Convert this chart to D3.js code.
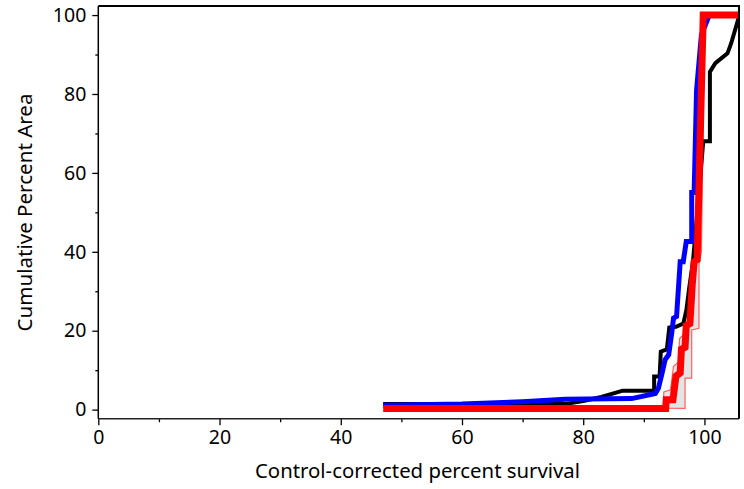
<!DOCTYPE html>
<html>
<head>
<meta charset="utf-8">
<script src="https://cdn.jsdelivr.net/npm/d3@7"></script>
<style>
  html, body { margin: 0; padding: 0; background: #fff; }
  svg { display: block; }
  text { font-family: "Noto Sans", "Open Sans", sans-serif; fill: #000; }
</style>
</head>
<body>
<svg id="chart" width="744" height="489"></svg>
<script>
// ---- data ----
const xTicks = [0, 20, 40, 60, 80, 100];
const xMinorTicks = [10, 30, 50, 70, 90];
const yTicks = [0, 20, 40, 60, 80, 100];
const yMinorTicks = [10, 30, 50, 70, 90];
const xTitle = "Control-corrected percent survival";
const yTitle = "Cumulative Percent Area";

const blackSeries = [
  [47, 1.4], [77, 1.4], [80, 2.2], [83, 3.2], [86.5, 4.8], [91.7, 4.8], [91.7, 8.4],
  [92.6, 8.4], [92.8, 14.7], [93.8, 15.3], [94.2, 20.8], [95.3, 21], [96.5, 21.8],
  [97.0, 25], [97.5, 31], [98.1, 37.5], [99.0, 53], [99.8, 68], [100.9, 68],
  [100.9, 85.6], [101.8, 87.8], [103.8, 90.3], [104.4, 92.8], [105.7, 99.6]
];
const blueSeries = [
  [47, 1.1], [60, 1.4], [70, 2.0], [77, 2.6], [88, 2.8], [91.9, 4.1], [92.4, 5.4],
  [93.0, 9.2], [93.5, 12.6], [94.1, 13.9], [94.6, 19.4], [94.9, 23.2], [95.4, 23.6],
  [96.0, 37.5], [96.5, 37.5], [97.0, 42.6], [97.9, 42.6], [97.9, 55], [98.3, 55],
  [98.7, 81], [99.5, 95], [100.8, 100], [105.7, 100]
];
const redSeries = [
  [47, 0.3], [93.6, 0.3], [93.7, 2.5], [94.8, 2.5], [95.3, 8.5], [96.0, 9.3],
  [96.2, 15.3], [96.8, 15.8], [97.0, 21.3], [97.6, 21.8], [98.0, 32], [98.3, 37.5],
  [98.8, 38], [99.8, 100], [105.7, 100]
];
const bandUpper = [
  [93.2, 0.4], [93.3, 4.5], [94.4, 5], [94.9, 11], [95.7, 12], [95.9, 18],
  [96.5, 19], [96.7, 25], [97.4, 26], [97.9, 38], [98.6, 40], [99.6, 100]
];
const bandLower = [
  [93.2, 0.4], [96.8, 0.3], [96.8, 8], [97.9, 8], [97.9, 20.2], [99.1, 20.6],
  [99.1, 36.7], [99.5, 40], [100.0, 100]
];

// ---- layout ----
const mLeft = 98.3, mRight = 739, mTop = 6, mBottom = 418.7;
const x = d3.scaleLinear().domain([0, 105.7]).range([mLeft, mRight]);
const y = d3.scaleLinear().domain([-2.3, 102.3]).range([mBottom, mTop]);

const svg = d3.select("#chart");

svg.append("defs").append("clipPath").attr("id", "clip")
  .append("rect").attr("x", mLeft).attr("y", mTop)
  .attr("width", mRight - mLeft).attr("height", mBottom - mTop);

const plot = svg.append("g").attr("clip-path", "url(#clip)");

const line = d3.line().x(d => x(d[0])).y(d => y(d[1]));

// band: upper path then reversed lower path
const bandPoly = bandUpper.concat(bandLower.slice().reverse());
plot.append("path")
  .attr("d", line(bandPoly) + "Z")
  .attr("fill", "#e4e4e4")
  .attr("stroke", "#ff6060")
  .attr("stroke-width", 1.2);

plot.append("path").attr("d", line(blackSeries))
  .attr("fill", "none").attr("stroke", "#000").attr("stroke-width", 4)
  .attr("stroke-linejoin", "miter");
plot.append("path").attr("d", line(blueSeries))
  .attr("fill", "none").attr("stroke", "#0000ff").attr("stroke-width", 5)
  .attr("stroke-linejoin", "miter");
plot.append("path").attr("d", line(redSeries))
  .attr("fill", "none").attr("stroke", "#ff0000").attr("stroke-width", 7)
  .attr("stroke-linejoin", "miter");

// axes
const fs = "19.5px";
const xAxis = svg.append("g").attr("transform", `translate(0,${mBottom})`)
  .call(d3.axisBottom(x).tickValues(xTicks).tickSize(6.5).tickPadding(5).tickSizeOuter(0));
xAxis.select(".domain").remove();
xAxis.selectAll("text").style("font-size", fs).attr("font-family", null);
xAxis.selectAll("line").attr("stroke", "#000").attr("stroke-width", 1.3);

const xMinor = svg.append("g").attr("transform", `translate(0,${mBottom})`)
  .call(d3.axisBottom(x).tickValues(xMinorTicks).tickSize(3.5).tickFormat(""));
xMinor.select(".domain").remove();
xMinor.selectAll("line").attr("stroke", "#000").attr("stroke-width", 1.3);

const yAxis = svg.append("g").attr("transform", `translate(${mLeft},0)`)
  .call(d3.axisLeft(y).tickValues(yTicks).tickSize(6).tickPadding(6).tickSizeOuter(0));
yAxis.select(".domain").remove();
yAxis.selectAll("text").style("font-size", fs).attr("font-family", null);
yAxis.selectAll("line").attr("stroke", "#000").attr("stroke-width", 1.3);

const yMinor = svg.append("g").attr("transform", `translate(${mLeft},0)`)
  .call(d3.axisLeft(y).tickValues(yMinorTicks).tickSize(3).tickFormat(""));
yMinor.select(".domain").remove();
yMinor.selectAll("line").attr("stroke", "#000").attr("stroke-width", 1.3);

// frame
svg.append("line").attr("x1", mLeft).attr("x2", mLeft).attr("y1", mTop).attr("y2", mBottom)
  .attr("stroke", "#000").attr("stroke-width", 1.5);
svg.append("line").attr("x1", mLeft).attr("x2", mRight).attr("y1", mBottom).attr("y2", mBottom)
  .attr("stroke", "#222").attr("stroke-width", 1.5);
svg.append("line").attr("x1", mLeft).attr("x2", mRight + 1).attr("y1", mTop).attr("y2", mTop)
  .attr("stroke", "#000").attr("stroke-width", 2);
svg.append("line").attr("x1", mRight).attr("x2", mRight).attr("y1", mTop).attr("y2", mBottom)
  .attr("stroke", "#000").attr("stroke-width", 2);

// titles
svg.append("text").attr("x", 417.5).attr("y", 477.5)
  .attr("text-anchor", "middle").style("font-size", "19.5px")
  .attr("textLength", 325).attr("lengthAdjust", "spacingAndGlyphs").text(xTitle);
svg.append("text").attr("transform", `translate(32,212.5) rotate(-90)`)
  .attr("text-anchor", "middle").style("font-size", "19.5px")
  .attr("textLength", 238).attr("lengthAdjust", "spacingAndGlyphs").text(yTitle);
</script>
</body>
</html>
